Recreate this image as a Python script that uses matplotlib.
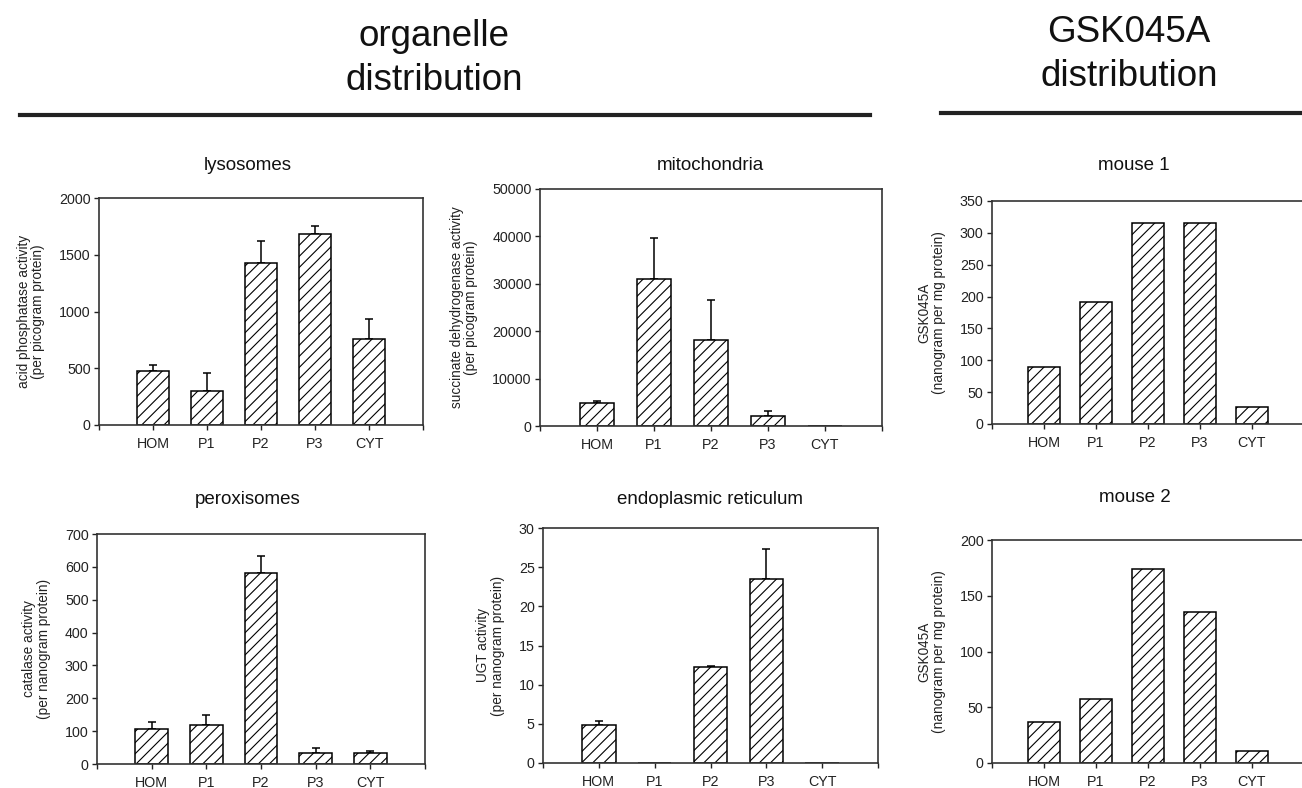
import numpy as np
import matplotlib
matplotlib.use("Agg")
import matplotlib.pyplot as plt

plt.rcParams['font.family'] = ['Liberation Sans', 'DejaVu Sans']
plt.rcParams['hatch.linewidth'] = 0.8

# data
categories = ['HOM', 'P1', 'P2', 'P3', 'CYT']

lyso_mean = [480, 300, 1430, 1680, 760]
lyso_err = [50, 155, 195, 70, 170]

mito_mean = [4900, 31000, 18200, 2200, 0]
mito_err = [400, 8600, 8400, 1000, 0]

perox_mean = [107, 120, 580, 34, 34]
perox_err = [20, 28, 52, 16, 5]

er_mean = [4.8, 0, 12.25, 23.5, 0]
er_err = [0.55, 0, 0.1, 3.8, 0]

mouse1 = [89, 192, 315, 315, 27]
mouse2 = [37, 57, 174, 135, 11]

W, H = 1302, 788
fig = plt.figure(figsize=(W / 100, H / 100), dpi=100)


def px_axes(left, top, right, bottom):
    return fig.add_axes([left / W, 1 - bottom / H, (right - left) / W, (bottom - top) / H])


def panel(ax, means, errs, ymax, ystep, ylabel, title, title_xy):
    x = np.arange(1, len(categories) + 1)
    ax.bar(x, means, width=0.6, color='white', edgecolor='black',
           linewidth=1.1, hatch='///', zorder=2)
    if errs is not None:
        errs = np.asarray(errs, dtype=float)
        m = errs > 0
        ax.errorbar(x[m], np.asarray(means)[m],
                    yerr=[np.zeros(m.sum()), errs[m]],
                    fmt='none', ecolor='black', elinewidth=1.1,
                    capsize=2.6, capthick=1.1, zorder=1)
    ax.set_xlim(0, 6)
    ax.set_ylim(0, ymax)
    ax.set_yticks(np.arange(0, ymax + ystep / 2, ystep))
    ax.set_xticks(np.arange(0, 7))
    ax.set_xticklabels([''] + categories + [''])
    ax.tick_params(axis='both', direction='out', length=3.5, width=1,
                   labelsize=10.3, colors='#222222', pad=2.5)
    ax.tick_params(axis='x', pad=5)
    for s in ax.spines.values():
        s.set_linewidth(1.2)
        s.set_color('#333333')
    ax.set_ylabel(ylabel, fontsize=9.8, linespacing=1.05, labelpad=10,
                  color='#222222')
    fig.text(title_xy[0] / W, 1 - title_xy[1] / H, title, fontsize=13.5,
             ha='center', va='center', color='#111111')


ax1 = px_axes(99, 198, 423, 425)
panel(ax1, lyso_mean, lyso_err, 2000, 500,
      'acid phosphatase activity\n(per picogram protein)', 'lysosomes', (248, 166))

ax2 = px_axes(540, 189, 882, 426)
panel(ax2, mito_mean, mito_err, 50000, 10000,
      'succinate dehydrogenase activity\n(per picogram protein)', 'mitochondria', (710, 166))

ax3 = px_axes(992, 201, 1304, 424)
panel(ax3, mouse1, None, 350, 50,
      'GSK045A\n(nanogram per mg protein)', 'mouse 1', (1134, 166))

ax4 = px_axes(97, 534, 425, 764)
panel(ax4, perox_mean, perox_err, 700, 100,
      'catalase activity\n(per nanogram protein)', 'peroxisomes', (248, 499))

ax5 = px_axes(543, 528, 878, 763)
panel(ax5, er_mean, er_err, 30, 5,
      'UGT activity\n(per nanogram protein)', 'endoplasmic reticulum', (710, 500))

ax6 = px_axes(992, 540, 1304, 763)
panel(ax6, mouse2, None, 200, 50,
      'GSK045A\n(nanogram per mg protein)', 'mouse 2', (1135, 498))

# section headers
hdr = dict(fontsize=26.5, ha='center', va='baseline', color='#111111')
fig.text(434 / W, 1 - 46 / H, 'organelle', **hdr)
fig.text(434 / W, 1 - 90 / H, 'distribution', **hdr)
fig.text(1129 / W, 1 - 42 / H, 'GSK045A', **hdr)
fig.text(1129 / W, 1 - 86 / H, 'distribution', **hdr)

fig.add_artist(plt.Line2D([20 / W, 870 / W], [1 - 115 / H, 1 - 115 / H],
                          color='#222222', linewidth=3))
fig.add_artist(plt.Line2D([941 / W, 1302 / W], [1 - 113 / H, 1 - 113 / H],
                          color='#222222', linewidth=3))

fig.savefig('out.png', dpi=100)
